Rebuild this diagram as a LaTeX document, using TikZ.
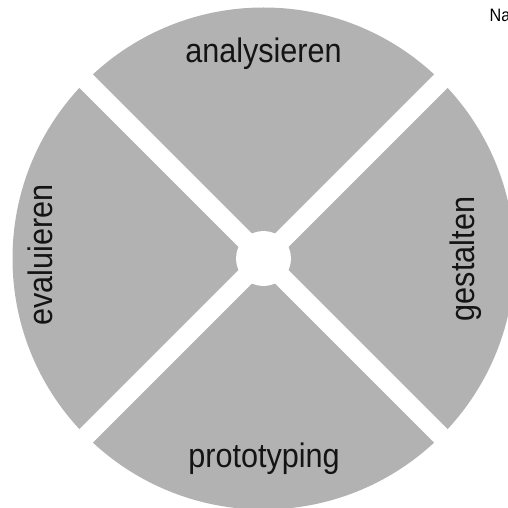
\documentclass[tikz,border=0pt]{standalone}
\usepackage{fontspec}
\setmainfont{Liberation Sans}[FakeStretch=0.9]
\begin{document}
\begin{tikzpicture}[x=1pt,y=-1pt,
  phase/.style={font=\fontsize{34}{38}\selectfont, text=black!92, inner sep=0pt},
  sector/.style={fill=black!30, draw=none},
  gap/.style={draw=white, line width=19pt}]
  \useasboundingbox (0,0) rectangle (508,508);
  \coordinate (c) at (263.5,258.5);
  % grey disc
  \fill[sector] (c) circle[radius=251];
  % white diagonal separators
  \draw[gap] (c) -- ++(45:255);
  \draw[gap] (c) -- ++(135:255);
  \draw[gap] (c) -- ++(225:255);
  \draw[gap] (c) -- ++(315:255);
  % white hub
  \fill[white] (c) circle[radius=27.5];
  % phase labels
  \node[phase, anchor=base] (ana) at (263.5,62.5) {analysieren};
  \node[phase, anchor=base] (pro) at (264,467.5) {prototyping};
  \node[phase, anchor=base, rotate=90] (eva) at (52,255) {evaluieren};
  \node[phase, anchor=base, rotate=90] (ges) at (474,259) {gestalten};
  % corner caption
  \node[font=\fontsize{18}{20}\selectfont, anchor=base west, inner sep=0pt] (cap) at (489.5,21.5) {Na};
\end{tikzpicture}
\end{document}
